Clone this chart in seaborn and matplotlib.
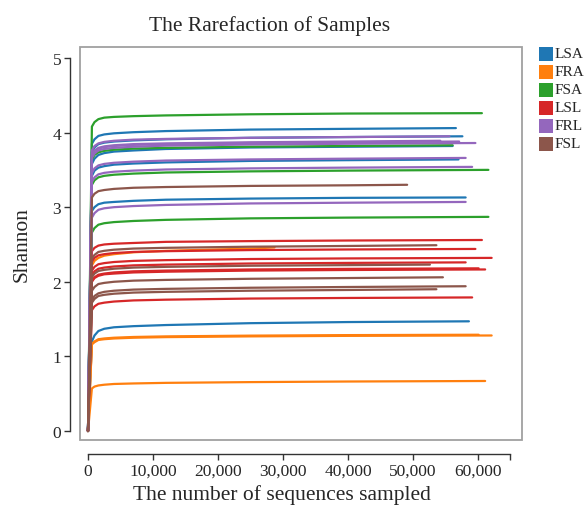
import pandas as pd
import matplotlib.pyplot as plt
import seaborn as sns
from matplotlib.patches import Rectangle

# sequencing depths where every curve was sampled (plus each sample's own final depth)
depth_steps = [1, 600, 1000, 1600, 2500, 4000, 7000, 12000, 25000, 40000]

groups = ['LSA', 'FRA', 'FSA', 'LSL', 'FRL', 'FSL']
colors = ['#1f77b4', '#ff7f0e', '#2ca02c', '#d62728', '#9467bd', '#8c564b']

# one entry per sample: group, final depth, Shannon at depth_steps (< final depth) then at final depth
sample_group = ['LSA', 'LSA', 'LSA', 'LSA', 'LSA', 'LSA',
                'FRA', 'FRA', 'FRA', 'FRA',
                'FSA', 'FSA', 'FSA', 'FSA',
                'LSL', 'LSL', 'LSL', 'LSL', 'LSL', 'LSL', 'LSL',
                'FRL', 'FRL', 'FRL', 'FRL', 'FRL', 'FRL', 'FRL',
                'FSL', 'FSL', 'FSL', 'FSL', 'FSL', 'FSL']
sample_end = [56600, 57600, 56100, 57000, 58100, 58600,
              28700, 60100, 62100, 61100,
              60600, 56100, 61600, 61600,
              60600, 59600, 62100, 58100, 60100, 61100, 59100,
              55600, 54200, 57100, 59600, 58100, 59100, 58100,
              49100, 53600, 52600, 54600, 58100, 53600]
sample_shannon = [
    [0, 3.85, 3.91, 3.955, 3.975, 3.99, 4.005, 4.02, 4.04, 4.05, 4.06],
    [0, 3.74, 3.80, 3.845, 3.865, 3.88, 3.895, 3.91, 3.93, 3.94, 3.95],
    [0, 3.58, 3.65, 3.70, 3.725, 3.745, 3.76, 3.78, 3.80, 3.81, 3.82],
    [0, 3.42, 3.49, 3.53, 3.55, 3.57, 3.585, 3.60, 3.62, 3.63, 3.64],
    [0, 2.95, 3.00, 3.04, 3.06, 3.07, 3.085, 3.10, 3.115, 3.125, 3.13],
    [0, 1.20, 1.28, 1.34, 1.37, 1.39, 1.405, 1.42, 1.445, 1.46, 1.47],
    [0, 2.22, 2.28, 2.32, 2.35, 2.37, 2.395, 2.415, 2.445, 2.46],
    [0, 1.17, 1.20, 1.23, 1.24, 1.25, 1.26, 1.268, 1.278, 1.285, 1.29],
    [0, 1.16, 1.19, 1.22, 1.23, 1.24, 1.25, 1.258, 1.268, 1.275, 1.28],
    [0, 0.57, 0.595, 0.61, 0.62, 0.63, 0.637, 0.645, 0.655, 0.663, 0.67],
    [0, 4.08, 4.14, 4.18, 4.20, 4.21, 4.22, 4.23, 4.245, 4.255, 4.26],
    [0, 3.64, 3.70, 3.735, 3.755, 3.77, 3.785, 3.795, 3.81, 3.82, 3.83],
    [0, 3.30, 3.36, 3.40, 3.42, 3.435, 3.45, 3.465, 3.48, 3.49, 3.50],
    [0, 2.66, 2.72, 2.765, 2.785, 2.80, 2.815, 2.83, 2.85, 2.86, 2.87],
    [0, 2.41, 2.455, 2.485, 2.50, 2.51, 2.52, 2.535, 2.545, 2.553, 2.56],
    [0, 2.27, 2.32, 2.355, 2.37, 2.385, 2.40, 2.41, 2.425, 2.433, 2.44],
    [0, 2.15, 2.20, 2.235, 2.25, 2.265, 2.28, 2.29, 2.305, 2.313, 2.32],
    [0, 2.09, 2.14, 2.175, 2.19, 2.205, 2.22, 2.23, 2.245, 2.253, 2.26],
    [0, 2.01, 2.06, 2.095, 2.11, 2.125, 2.14, 2.15, 2.165, 2.173, 2.18],
    [0, 2.00, 2.05, 2.08, 2.10, 2.11, 2.125, 2.135, 2.15, 2.158, 2.165],
    [0, 1.62, 1.67, 1.705, 1.72, 1.735, 1.75, 1.76, 1.775, 1.783, 1.79],
    [0, 3.76, 3.82, 3.855, 3.875, 3.89, 3.905, 3.915, 3.93, 3.94, 3.95],
    [0, 3.70, 3.76, 3.795, 3.815, 3.83, 3.845, 3.855, 3.87, 3.88, 3.89],
    [0, 3.69, 3.75, 3.785, 3.805, 3.82, 3.835, 3.845, 3.86, 3.87, 3.88],
    [0, 3.66, 3.72, 3.76, 3.78, 3.795, 3.81, 3.825, 3.84, 3.85, 3.86],
    [0, 3.46, 3.52, 3.56, 3.58, 3.595, 3.61, 3.625, 3.64, 3.65, 3.66],
    [0, 3.34, 3.40, 3.44, 3.46, 3.475, 3.49, 3.505, 3.52, 3.53, 3.54],
    [0, 2.86, 2.92, 2.965, 2.985, 3.00, 3.015, 3.03, 3.05, 3.06, 3.07],
    [0, 3.13, 3.18, 3.215, 3.23, 3.245, 3.26, 3.27, 3.285, 3.293, 3.30],
    [0, 2.31, 2.36, 2.40, 2.415, 2.43, 2.445, 2.455, 2.47, 2.48, 2.49],
    [0, 2.06, 2.11, 2.145, 2.16, 2.175, 2.19, 2.20, 2.215, 2.223, 2.23],
    [0, 1.88, 1.93, 1.97, 1.985, 2.00, 2.015, 2.025, 2.04, 2.05, 2.06],
    [0, 1.75, 1.81, 1.845, 1.865, 1.88, 1.895, 1.905, 1.92, 1.93, 1.94],
    [0, 1.72, 1.77, 1.81, 1.825, 1.84, 1.855, 1.865, 1.88, 1.89, 1.90],
]

x_ticks = [0, 10000, 20000, 30000, 40000, 50000, 60000, 65000]
y_ticks = [0, 1, 2, 3, 4, 5]

# long-form table for seaborn
rows = []
for i, (grp, end, vals) in enumerate(zip(sample_group, sample_end, sample_shannon)):
    depths = [d for d in depth_steps if d < end] + [end]
    for d, v in zip(depths, vals):
        rows.append({'sample': i, 'group': grp, 'depth': d, 'shannon': v})
df = pd.DataFrame(rows)

sns.set_style('white')
plt.rcParams['font.family'] = ['Liberation Serif', 'DejaVu Serif']

fig = plt.figure(figsize=(5.87, 5.06), dpi=100)
ax = fig.add_axes([80 / 587, 1 - 441 / 506, 442 / 587, 393 / 506])

sns.lineplot(data=df, x='depth', y='shannon', hue='group', units='sample',
             estimator=None, hue_order=groups, palette=colors, lw=1.6,
             legend=False, ax=ax)

ax.set_xlim(-1230, 66770)
ax.set_ylim(-0.121, 5.147)

# grey frame round the plotting area
ax.add_patch(Rectangle((0, 0), 1, 1, transform=ax.transAxes, fill=False,
                       ec='#a0a0a0', lw=1.3, clip_on=False))
for s in ['top', 'right']:
    ax.spines[s].set_visible(False)
ax.spines['left'].set_position(('outward', 7))
ax.spines['bottom'].set_position(('outward', 10))
ax.spines['left'].set_bounds(0, 5)
ax.spines['bottom'].set_bounds(0, 65000)
for s in ['left', 'bottom']:
    ax.spines[s].set_color('#333333')
    ax.spines[s].set_linewidth(1.0)

ax.set_xticks(x_ticks)
ax.set_xticklabels([f'{t:,}' for t in x_ticks[:-1]] + [''])
ax.set_yticks(y_ticks)
ax.tick_params(axis='both', length=4.5, width=1, color='#333333',
               labelsize=12.5, pad=2, direction='out')
ax.tick_params(axis='x', bottom=True)
ax.tick_params(axis='y', left=True)
ax.set_xlabel('')
ax.set_ylabel('')

fig.text(270 / 587, 1 - 31 / 506, 'The Rarefaction of Samples', fontsize=15.5,
         ha='center', va='baseline')
fig.text(282 / 587, 1 - 495 / 506, 'The number of sequences sampled',
         fontsize=15.5, ha='center', va='center')
fig.text(22 / 587, 1 - 245 / 506, 'Shannon', fontsize=15.5, rotation=90,
         ha='center', va='center')

# legend: coloured squares with labels
for k, (grp, col) in enumerate(zip(groups, colors)):
    yc = 55 + 18 * k
    fig.add_artist(Rectangle((539 / 587, 1 - (yc + 7) / 506), 14 / 587, 14 / 506,
                             transform=fig.transFigure, fc=col, ec='none'))
    fig.text(555 / 587, 1 - yc / 506, grp, fontsize=11, ha='left', va='center')

plt.savefig('out.png', dpi=100)
plt.close()
